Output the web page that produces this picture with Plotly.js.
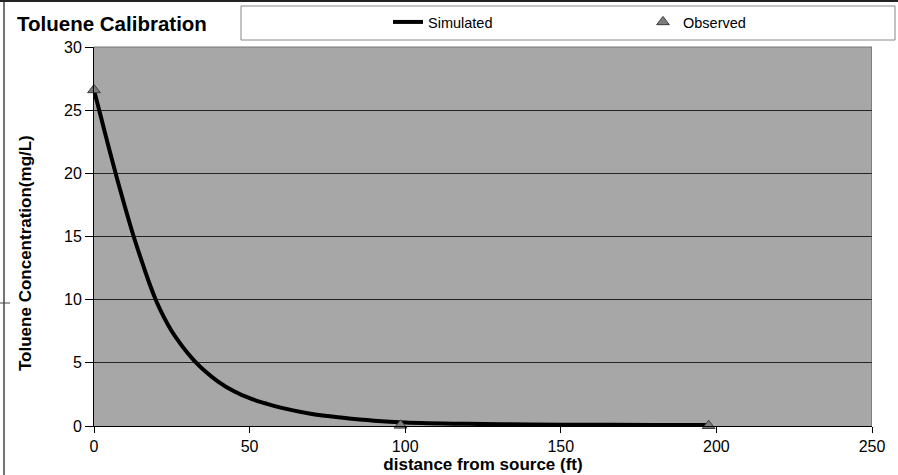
<!DOCTYPE html>
<html>
<head>
<meta charset="utf-8">
<script src="https://cdn.plot.ly/plotly-3.0.1.min.js"></script>
<style>html,body{margin:0;padding:0;background:#fff;}#chart{width:898px;height:475px;}</style>
</head>
<body>
<div id="chart"></div>
<script>
// Simulated concentration profile
const simDistance = [0, 2.5, 5, 7.5, 10, 12.5, 15, 17.5, 20, 22.5, 25, 27.5, 30, 32.5, 35, 40, 45, 50, 55, 60, 70, 80, 90, 100, 120, 140, 160, 180, 197];
const simConc     = [26.6, 24.2, 21.8, 19.5, 17.3, 15.2, 13.3, 11.5, 9.9, 8.6, 7.5, 6.6, 5.8, 5.1, 4.5, 3.5, 2.75, 2.2, 1.8, 1.45, 0.95, 0.65, 0.42, 0.28, 0.17, 0.12, 0.1, 0.08, 0.07];
// Observed concentrations
const obsDistance = [0, 98.5, 197.5];
const obsConc     = [26.6, 0.05, 0.02];
const xTicks = [0, 50, 100, 150, 200, 250];
const yTicks = [0, 5, 10, 15, 20, 25, 30];

const font = 'Liberation Sans, Arial, sans-serif';

const traces = [
  {x: simDistance, y: simConc, name: 'Simulated', type: 'scatter', mode: 'lines', legend: 'legend',
   line: {color: '#000', width: 4, shape: 'spline', smoothing: 1}},
  {x: obsDistance, y: obsConc, name: 'Observed', type: 'scatter', mode: 'markers', legend: 'legend2', cliponaxis: false,
   marker: {symbol: 'triangle-up', size: 11, color: '#7c7c7c', line: {color: '#3a3a3a', width: 1}}}
];

// pixel helpers for paper coordinates (plot area 94..872 x 47..426)
const px = v => (v - 94) / 778;
const py = v => (426 - v) / 379;

const legendStyle = {orientation: 'h', xref: 'container', yref: 'container', xanchor: 'left', yanchor: 'middle',
  y: 1 - 22 / 475, bgcolor: 'rgba(0,0,0,0)', borderwidth: 0, font: {family: font, size: 14.5, color: '#000'}};

const layout = {
  width: 898, height: 475,
  margin: {l: 94, r: 26, t: 47, b: 49},
  paper_bgcolor: '#fff',
  plot_bgcolor: '#a7a7a7',
  font: {family: font, size: 16, color: '#000'},
  title: {text: 'Toluene Calibration', font: {family: font, size: 20.5, weight: 'bold', color: '#000'},
          xref: 'container', yref: 'container', x: 0.019, xanchor: 'left', y: 0.95, yanchor: 'middle'},
  showlegend: true,
  legend: Object.assign({}, legendStyle, {x: 388 / 898}),
  legend2: Object.assign({}, legendStyle, {x: 643 / 898}),
  xaxis: {range: [0, 250], tickvals: xTicks, ticktext: xTicks.map(String), showgrid: false, zeroline: false,
          showline: true, linecolor: '#000', linewidth: 1, ticks: 'outside', ticklen: 6, tickcolor: '#000',
          tickfont: {family: font, size: 16},
          title: {text: 'distance from source (ft)', font: {family: font, size: 17, weight: 'bold'}, standoff: 3}},
  yaxis: {range: [0, 30], tickvals: yTicks, ticktext: yTicks.map(String), showgrid: true, gridcolor: '#222', gridwidth: 1.3,
          zeroline: false, showline: true, linecolor: '#000', linewidth: 1, ticks: 'outside', ticklen: 8, tickcolor: '#000',
          tickfont: {family: font, size: 16}},
  annotations: [
    {text: '<b>Toluene Concentration(mg/L)</b>', xref: 'paper', yref: 'paper', x: px(25), y: py(253),
     xanchor: 'center', yanchor: 'middle', textangle: -90, showarrow: false, font: {family: font, size: 17, color: '#000'}}
  ],
  shapes: [
    {type: 'line', xref: 'x', yref: 'paper', x0: 250, x1: 250, y0: 0, y1: 1, line: {color: '#555', width: 1}},
    {type: 'line', xref: 'paper', yref: 'paper', x0: 0, x1: 1, y0: 1, y1: 1, line: {color: '#777', width: 1}},
    {type: 'path', xref: 'paper', yref: 'paper', layer: 'below',
     path: 'M ' + px(241) + ',' + py(6) + ' L ' + px(895) + ',' + py(6) +
           ' L ' + px(895) + ',' + py(40) + ' L ' + px(241) + ',' + py(40) + ' Z',
     line: {color: '#888', width: 1}, fillcolor: '#fff'},
    // scan frame edges
    {type: 'line', xref: 'paper', yref: 'paper', x0: px(4), x1: px(4), y0: py(475), y1: py(2), line: {color: '#444', width: 1.5}},
    {type: 'line', xref: 'paper', yref: 'paper', x0: px(0), x1: px(898), y0: py(1), y1: py(1), line: {color: '#222', width: 2}},
    {type: 'line', xref: 'paper', yref: 'paper', x0: px(0), x1: px(10), y0: py(303), y1: py(303), line: {color: '#444', width: 1}}
  ]
};

Plotly.newPlot('chart', traces, layout, {staticPlot: true, displayModeBar: false});
</script>
</body>
</html>
